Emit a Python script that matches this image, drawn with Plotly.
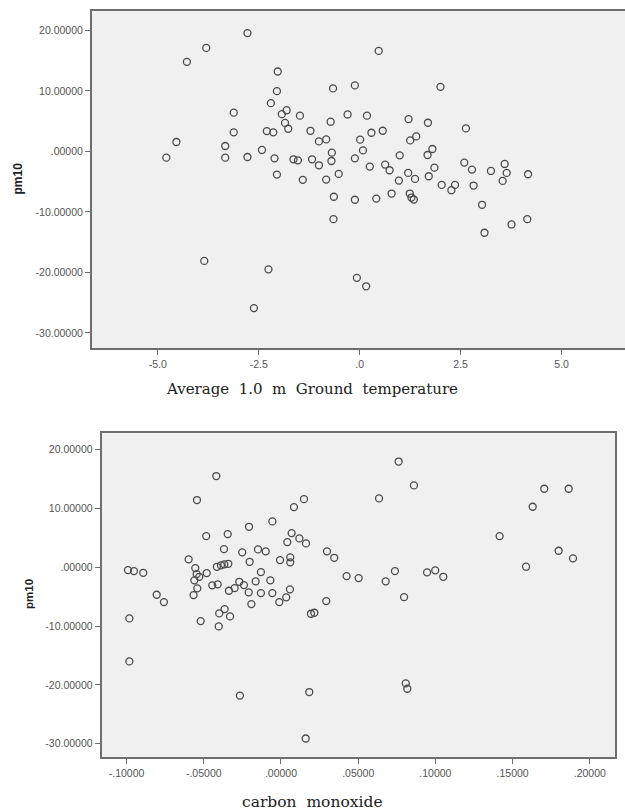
import plotly.graph_objects as go

# ---- Top chart: Average 1.0 m Ground temperature vs pm10 ----
temp_x = [-2.78, -3.80, -4.28, 0.47, -2.03, -2.05, -0.66, -0.12, -2.20, -3.12,
          -1.81, -1.93, -1.48, -0.30, 0.18, -0.72, -1.85, -1.77, -3.12, -2.30,
          -2.14, -1.22, 0.29, -0.83, -1.01, 0.01, -4.54, -3.33, -2.42, 0.08,
          -0.69, -4.79, -3.33, -2.78, -2.11, -1.64, -1.53, -1.18, -0.70, -0.12,
          -1.01, 0.25, -2.05, -0.52, -1.41, -0.83, -0.64, -0.12, 0.41, -0.65,
          -3.85, -2.26, -0.07, 0.16, -2.62,
          2.00, 1.21, 1.69, 2.63, 0.57, 1.40, 1.25, 1.80, 1.68, 0.99,
          0.63, 0.74, 1.85, 2.59, 2.78, 3.25, 3.59, 3.64, 4.17, 3.54,
          1.20, 1.37, 0.97, 1.71, 2.03, 2.36, 2.27, 2.82, 0.79, 1.24,
          1.28, 1.34, 3.03, 3.76, 4.15, 3.09]
temp_pm10 = [19.55, 17.1, 14.8, 16.6, 13.2, 9.95, 10.4, 10.9, 7.97, 6.4,
             6.8, 6.15, 5.9, 6.1, 5.9, 4.9, 4.7, 3.74, 3.14, 3.35,
             3.14, 3.4, 3.08, 1.98, 1.65, 1.93, 1.55, 0.89, 0.23, 0.16,
             -0.21, -1.04, -1.04, -0.93, -1.15, -1.31, -1.48, -1.31, -1.59, -1.15,
             -2.30, -2.52, -3.84, -3.73, -4.71, -4.66, -7.5, -8.0, -7.8, -11.2,
             -18.1, -19.5, -20.9, -22.3, -25.9,
             10.66, 5.34, 4.73, 3.79, 3.41, 2.47, 1.81, 0.39, -0.6, -0.66,
             -2.19, -3.12, -2.69, -1.86, -3.01, -3.24, -2.08, -3.56, -3.78, -4.88,
             -3.56, -4.55, -4.83, -4.11, -5.54, -5.54, -6.42, -5.65, -6.97, -6.97,
             -7.63, -7.96, -8.83, -12.08, -11.2, -13.45]

# ---- Bottom chart: carbon monoxide vs pm10 ----
co_x = [-0.0419, -0.0544, 0.0149, 0.0084, -0.0056, -0.0207, -0.0484, -0.0345, 0.0069, 0.0119,
        0.0162, 0.0041, -0.0369, -0.0251, -0.0149, -0.0099, 0.0298, 0.0345, -0.0598, -0.0203,
        -0.0006, 0.0060, 0.0060, -0.0991, -0.0952, -0.0892, -0.0555, -0.0415, -0.0389, -0.0367,
        -0.0341, -0.0546, -0.0561, -0.0529, -0.0481, -0.0130, -0.0164, -0.0069, -0.0270, -0.0240,
        -0.0300, -0.0337, -0.0445, -0.0410, -0.0542, -0.0566, -0.0805, -0.0758, -0.0209, -0.0130,
        -0.0056, 0.0058, -0.0011, 0.0034, -0.0192, 0.0293, 0.0194, 0.0216, -0.0365, -0.0400,
        -0.0330, -0.0520, -0.0403, -0.0982, -0.0982, -0.0266, 0.0183, 0.0160,
        0.0762, 0.0861, 0.0635, 0.1705, 0.1863, 0.1630, 0.1416, 0.1798, 0.1891, 0.1587,
        0.0425, 0.0503, 0.0738, 0.0678, 0.0946, 0.0999, 0.1051, 0.0797, 0.0808, 0.0818]
co_pm10 = [15.53, 11.45, 11.6, 10.25, 7.82, 6.9, 5.32, 5.66, 5.83, 4.93,
           4.08, 4.3, 3.11, 2.55, 3.06, 2.72, 2.72, 1.63, 1.36, 0.95,
           1.24, 1.70, 0.85, -0.46, -0.63, -0.92, -0.12, 0.10, 0.34, 0.51,
           0.61, -1.14, -2.21, -1.6, -0.97, -0.8, -2.38, -2.21, -2.45, -3.01,
           -3.52, -3.98, -3.06, -2.89, -3.57, -4.71, -4.66, -5.9, -4.25, -4.37,
           -4.37, -3.74, -5.9, -5.1, -6.24, -5.73, -7.89, -7.72, -7.09, -7.83,
           -8.34, -9.13, -10.04, -8.68, -15.99, -21.8, -21.2, -29.1,
           18.0, 13.94, 11.73, 13.37, 13.37, 10.31, 5.32, 2.83, 1.53, 0.11,
           -1.48, -1.82, -0.63, -2.38, -0.85, -0.51, -1.6, -5.05, -19.73, -20.64]

y_ticks = [20, 10, 0, -10, -20, -30]
y_tick_text = ["20.00000", "10.00000", ".00000", "-10.00000", "-20.00000", "-30.00000"]
temp_ticks = [-5.0, -2.5, 0.0, 2.5, 5.0]
temp_tick_text = ["-5.0", "-2.5", ".0", "2.5", "5.0"]
co_ticks = [-0.10, -0.05, 0.0, 0.05, 0.10, 0.15, 0.20]
co_tick_text = ["-.10000", "-.05000", ".00000", ".05000", ".10000", ".15000", ".20000"]

W, H = 625, 812
marker = dict(symbol="circle-open", size=7, color="#4a4a4a", line=dict(width=1.3, color="#4a4a4a"))

fig = go.Figure()
fig.add_trace(go.Scatter(x=temp_x, y=temp_pm10, mode="markers", marker=marker,
                         xaxis="x", yaxis="y", showlegend=False, hoverinfo="skip"))
fig.add_trace(go.Scatter(x=co_x, y=co_pm10, mode="markers", marker=marker,
                         xaxis="x2", yaxis="y2", showlegend=False, hoverinfo="skip"))

tickfont = dict(family="Liberation Sans, Arial, sans-serif", size=10.5, color="#555555")
axis_common = dict(showgrid=False, zeroline=False, showline=True, linecolor="#6e6e6e",
                   linewidth=2, ticks="outside", ticklen=5, tickwidth=1.2,
                   tickcolor="#6e6e6e", tickfont=tickfont)

def px_x(p):
    return p / W

def px_y(p):
    return 1 - p / H

fig.update_layout(
    template="none",
    width=W, height=H,
    margin=dict(l=0, r=0, t=0, b=0),
    paper_bgcolor="white",
    plot_bgcolor="#f0f0f0",
    font=dict(family="Liberation Sans, Arial, sans-serif", color="#555555"),
    xaxis=dict(domain=[px_x(92), 1.0], range=[-6.63, 6.57], tickvals=temp_ticks,
               ticktext=temp_tick_text, anchor="y", mirror=True, **axis_common),
    yaxis=dict(domain=[px_y(348), px_y(11)], range=[-32.5, 23.2], tickvals=y_ticks,
               ticktext=y_tick_text, anchor="x", mirror=False, **axis_common),
    xaxis2=dict(domain=[px_x(101.7), px_x(615)], range=[-0.1161, 0.2163], tickvals=co_ticks,
                ticktext=co_tick_text, anchor="y2", mirror=True, **axis_common),
    yaxis2=dict(domain=[px_y(757.3), px_y(433.3)], range=[-32.3, 22.8], tickvals=y_ticks,
                ticktext=y_tick_text, anchor="x2", mirror=True, **axis_common),
    annotations=[
        dict(text="<b>pm10</b>", x=px_x(17.5), y=px_y(179), xref="paper", yref="paper",
             xanchor="center", yanchor="middle", showarrow=False, textangle=-90,
             font=dict(family="Liberation Sans, Arial, sans-serif", size=12, color="#222")),
        dict(text="<b>pm10</b>", x=px_x(29), y=px_y(594), xref="paper", yref="paper",
             xanchor="center", yanchor="middle", showarrow=False, textangle=-90,
             font=dict(family="Liberation Sans, Arial, sans-serif", size=11.5, color="#222")),
        dict(text="Average  1.0  m  Ground  temperature", x=px_x(312), y=px_y(389),
             xref="paper", yref="paper", xanchor="center", yanchor="middle", showarrow=False,
             font=dict(family="DejaVu Serif, serif", size=15, color="#222")),
        dict(text="carbon  monoxide", x=px_x(312), y=px_y(802),
             xref="paper", yref="paper", xanchor="center", yanchor="middle", showarrow=False,
             font=dict(family="DejaVu Serif, serif", size=15.5, color="#222")),
    ],
)

fig.write_html("out.html", config={"displayModeBar": False},
               post_script="document.body.style.margin='0px';")
